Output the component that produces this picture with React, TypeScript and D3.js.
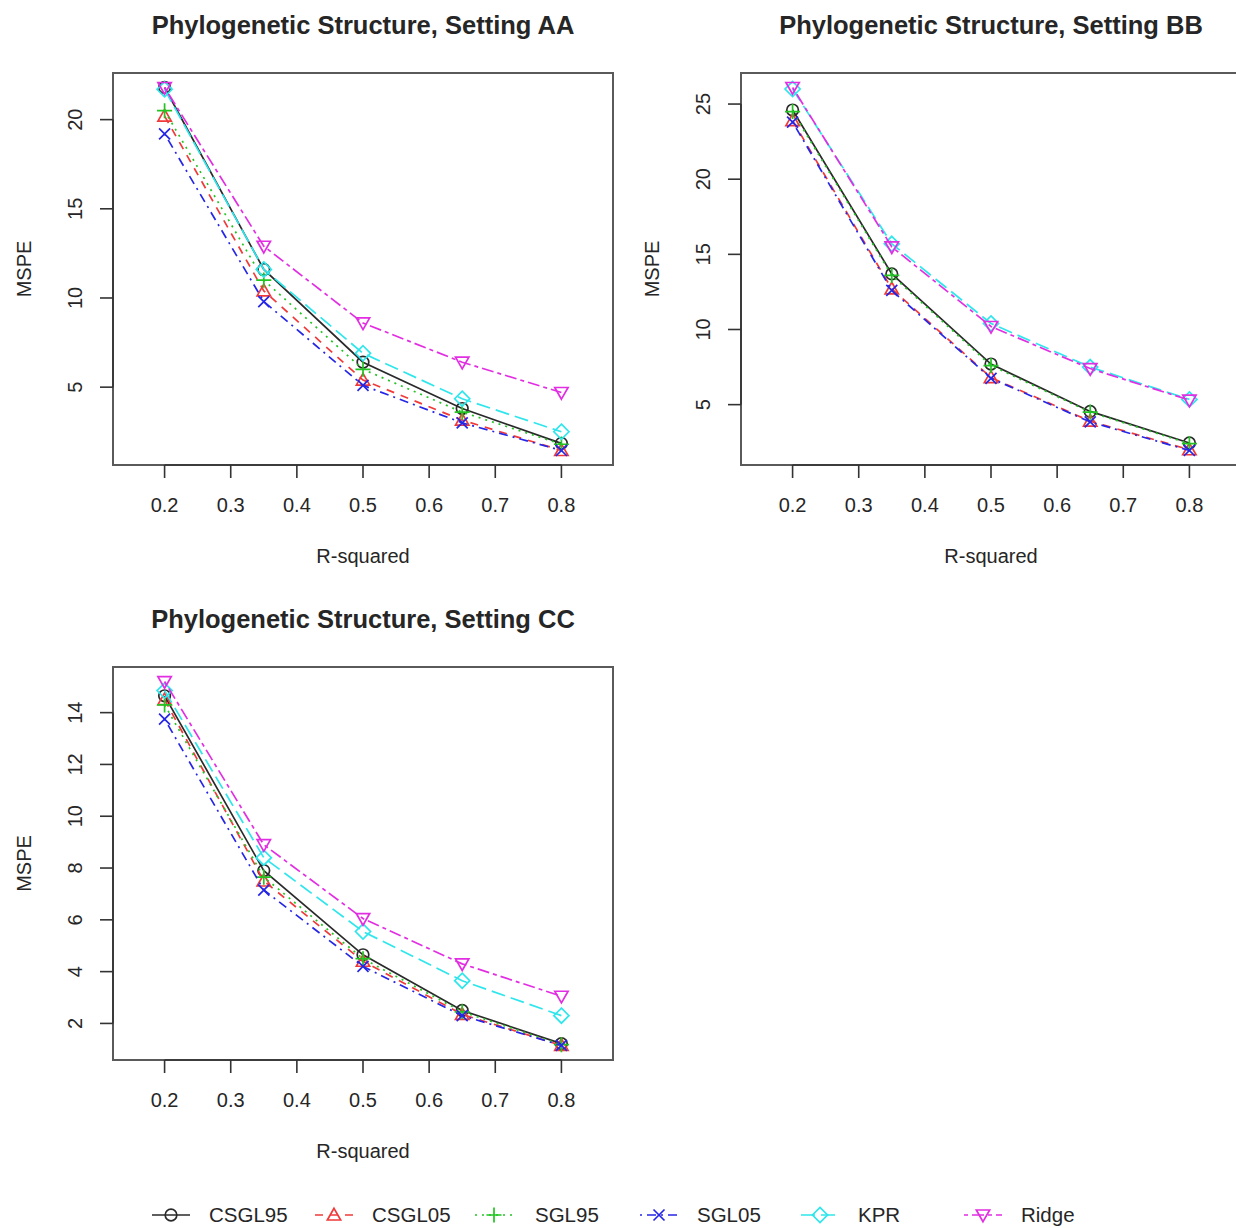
import React from "react";
import * as d3 from "d3";

// Sample settings on the x axis (R-squared of the simulated model)
const R_SQUARED = [0.2, 0.35, 0.5, 0.65, 0.8];
const X_TICKS = [0.2, 0.3, 0.4, 0.5, 0.6, 0.7, 0.8];
const X_LIMITS = [0.15, 0.85];

// Methods, in plotting order
const METHODS = ["CSGL95", "CSGL05", "SGL95", "SGL05", "KPR", "Ridge"];
const COLORS = ["#2a2a2a", "#f03a3a", "#22c422", "#2626e6", "#2ee6ec", "#e22ee2"];
const DASHES = ["", "8,7", "2,5", "2,5,9,5", "14,6", "4,4,12,4"];
const SHAPES = ["circle", "triangle", "plus", "cross", "diamond", "triangleDown"];

// MSPE per method (rows follow METHODS), one row per R-squared value
const SETTING_AA = [
  [21.8, 11.6, 6.4, 3.8, 1.85],
  [20.2, 10.4, 5.4, 3.15, 1.45],
  [20.5, 11.0, 6.0, 3.6, 1.8],
  [19.2, 9.8, 5.1, 3.0, 1.45],
  [21.7, 11.6, 6.9, 4.35, 2.5],
  [21.8, 12.9, 8.6, 6.4, 4.7],
];
const SETTING_BB = [
  [24.6, 13.7, 7.7, 4.55, 2.45],
  [23.9, 12.7, 6.8, 3.9, 2.0],
  [24.5, 13.6, 7.6, 4.5, 2.4],
  [23.8, 12.6, 6.75, 3.85, 1.95],
  [26.0, 15.7, 10.4, 7.5, 5.35],
  [26.1, 15.5, 10.2, 7.4, 5.3],
];
const SETTING_CC = [
  [14.65, 7.9, 4.65, 2.5, 1.22],
  [14.5, 7.5, 4.4, 2.35, 1.15],
  [14.3, 7.65, 4.5, 2.45, 1.18],
  [13.75, 7.15, 4.2, 2.3, 1.15],
  [14.85, 8.4, 5.55, 3.65, 2.3],
  [15.2, 8.9, 6.05, 4.3, 3.05],
];

const Y_TICKS_AA = [5, 10, 15, 20];
const Y_TICKS_BB = [5, 10, 15, 20, 25];
const Y_TICKS_CC = [2, 4, 6, 8, 10, 12, 14];

const TITLES = [
  "Phylogenetic Structure, Setting AA",
  "Phylogenetic Structure, Setting BB",
  "Phylogenetic Structure, Setting CC",
];

const FONT = "'Liberation Sans', Arial, Helvetica, sans-serif";
const TEXT = "#262626";

function markerPath(shape: string, r: number): string {
  switch (shape) {
    case "circle":
      return `M${-r},0A${r},${r} 0 1,0 ${r},0A${r},${r} 0 1,0 ${-r},0Z`;
    case "triangle": {
      const h = r * 1.15;
      return `M0,${-h}L${h},${h * 0.75}L${-h},${h * 0.75}Z`;
    }
    case "triangleDown": {
      const h = r * 1.15;
      return `M0,${h}L${h},${-h * 0.75}L${-h},${-h * 0.75}Z`;
    }
    case "plus": {
      const s = r * 1.3;
      return `M${-s},0L${s},0M0,${-s}L0,${s}`;
    }
    case "cross": {
      const s = r * 0.95;
      return `M${-s},${-s}L${s},${s}M${-s},${s}L${s},${-s}`;
    }
    case "diamond": {
      const s = r * 1.3;
      return `M0,${-s}L${s},0L0,${s}L${-s},0Z`;
    }
  }
  return "";
}

type PanelProps = {
  title: string;
  data: number[][];
  yTicks: number[];
  left: number;
  right: number;
  top: number;
  bottom: number;
};

function Panel({ title, data, yTicks, left, right, top, bottom }: PanelProps) {
  const all = data.flat();
  const [lo, hi] = d3.extent(all) as [number, number];
  const padY = (hi - lo) * 0.04;
  const padX = (X_LIMITS[1] - X_LIMITS[0]) * 0.04;
  const x = d3.scaleLinear().domain([X_LIMITS[0] - padX, X_LIMITS[1] + padX]).range([left, right]);
  const y = d3.scaleLinear().domain([lo - padY, hi + padY]).range([bottom, top]);
  const line = d3
    .line<number>()
    .x((_, i) => x(R_SQUARED[i]))
    .y((d) => y(d));
  const tickLen = 13;
  const cx = (left + right) / 2;
  const cy = (top + bottom) / 2;
  return (
    <g>
      <text x={cx} y={top - 39} textAnchor="middle" fontFamily={FONT} fontWeight="bold" fontSize={25.5} fill={TEXT}>
        {title}
      </text>
      <rect x={left} y={top} width={right - left} height={bottom - top} fill="none" stroke="#5a5a5a" strokeWidth={2} />
      {/* x axis */}
      <line x1={x(X_TICKS[0])} x2={x(X_TICKS[X_TICKS.length - 1])} y1={bottom} y2={bottom} stroke="#333" strokeWidth={1.6} />
      {X_TICKS.map((t) => (
        <g key={"x" + t}>
          <line x1={x(t)} x2={x(t)} y1={bottom} y2={bottom + tickLen} stroke="#333" strokeWidth={1.6} />
          <text x={x(t)} y={bottom + 47} textAnchor="middle" fontFamily={FONT} fontSize={20} fill={TEXT}>
            {d3.format(".1f")(t)}
          </text>
        </g>
      ))}
      <text x={cx} y={bottom + 98} textAnchor="middle" fontFamily={FONT} fontSize={20} fill={TEXT}>
        R-squared
      </text>
      {/* y axis */}
      <line x1={left} x2={left} y1={y(yTicks[0])} y2={y(yTicks[yTicks.length - 1])} stroke="#333" strokeWidth={1.6} />
      {yTicks.map((t) => (
        <g key={"y" + t}>
          <line x1={left - tickLen} x2={left} y1={y(t)} y2={y(t)} stroke="#333" strokeWidth={1.6} />
          <text
            transform={`translate(${left - 31},${y(t)}) rotate(-90)`}
            textAnchor="middle"
            fontFamily={FONT}
            fontSize={20}
            fill={TEXT}
          >
            {t}
          </text>
        </g>
      ))}
      <text
        transform={`translate(${left - 82},${cy}) rotate(-90)`}
        textAnchor="middle"
        fontFamily={FONT}
        fontSize={20}
        fill={TEXT}
      >
        MSPE
      </text>
      {/* series */}
      {data.map((vals, k) => (
        <g key={METHODS[k]} stroke={COLORS[k]} fill="none" strokeWidth={1.7}>
          <path d={line(vals) || ""} strokeDasharray={DASHES[k] || undefined} />
          {vals.map((v, i) => (
            <path
              key={i}
              transform={`translate(${x(R_SQUARED[i])},${y(v)})`}
              d={markerPath(SHAPES[k], 5.8)}
              strokeWidth={1.7}
            />
          ))}
        </g>
      ))}
    </g>
  );
}

// Legend positions along the bottom row
const LEGEND_SYMBOL_X = [171, 334, 494, 659, 820, 983];
const LEGEND_TEXT_X = [209, 372, 535, 697, 858, 1021];

function Legend() {
  const ly = 1215;
  return (
    <g>
      {METHODS.map((m, k) => (
        <g key={m}>
          <g stroke={COLORS[k]} fill="none" strokeWidth={1.7}>
            <line
              x1={LEGEND_SYMBOL_X[k] - 19}
              x2={LEGEND_SYMBOL_X[k] + 19}
              y1={ly}
              y2={ly}
              strokeDasharray={DASHES[k] || undefined}
            />
            <path transform={`translate(${LEGEND_SYMBOL_X[k]},${ly})`} d={markerPath(SHAPES[k], 5.8)} />
          </g>
          <text x={LEGEND_TEXT_X[k]} y={ly + 7} fontFamily={FONT} fontSize={20.5} fill={TEXT}>
            {m}
          </text>
        </g>
      ))}
    </g>
  );
}

export default function App() {
  return (
    <svg width={1236} height={1228} style={{ position: "absolute", left: 0, top: 0, background: "#fff" }}>
      <rect width={1236} height={1228} fill="#fff" />
      <Panel title={TITLES[0]} data={SETTING_AA} yTicks={Y_TICKS_AA} left={113} right={613} top={73} bottom={465} />
      <Panel title={TITLES[1]} data={SETTING_BB} yTicks={Y_TICKS_BB} left={741} right={1241} top={73} bottom={465} />
      <Panel title={TITLES[2]} data={SETTING_CC} yTicks={Y_TICKS_CC} left={113} right={613} top={667} bottom={1060} />
      <Legend />
    </svg>
  );
}
